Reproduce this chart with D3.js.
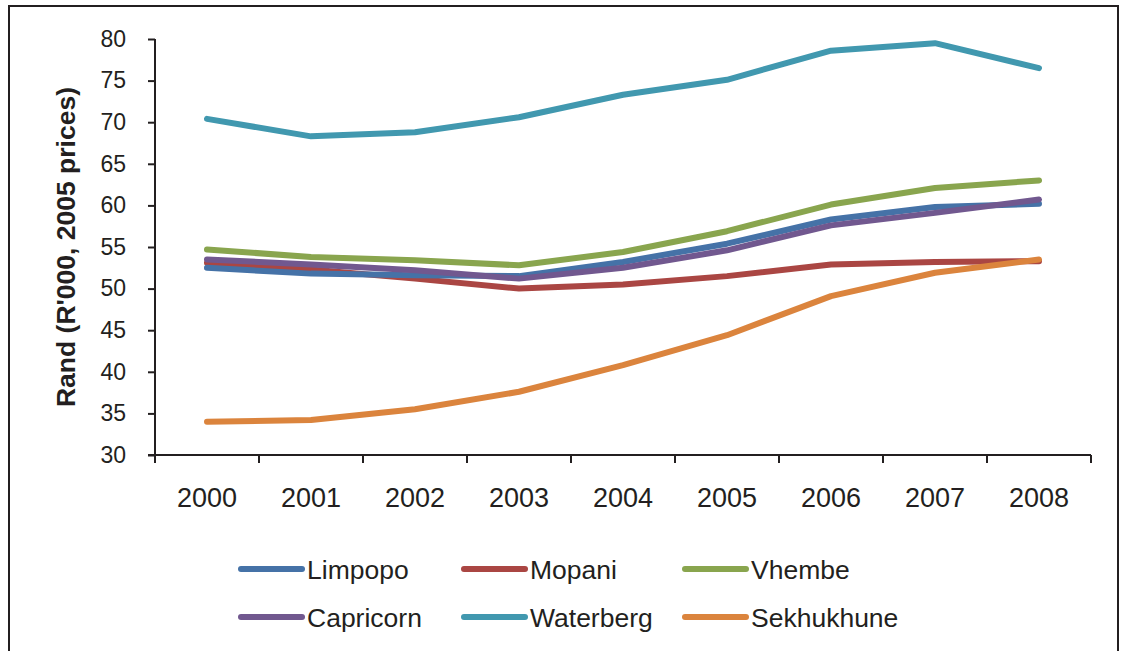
<!DOCTYPE html>
<meta charset="utf-8">
<head>
    <title>Rand per district</title>
    <script src="https://cdn.jsdelivr.net/npm/d3@7"></script>
</head>

<style>
    body { margin: 0; background: #fff; }
    text { font-family: "Liberation Sans", Arial, sans-serif; fill: #231f20; }
    .axis path, .axis line { stroke: #231f20; stroke-width: 2px; }
    .series { fill: none; stroke-width: 6px; stroke-linecap: round; stroke-linejoin: round; }
</style>

<svg></svg>

<script>
    var width = 1124;
    var height = 651;

    // data
    var years = ['2000', '2001', '2002', '2003', '2004', '2005', '2006', '2007', '2008'];
    var yTicks = [30, 35, 40, 45, 50, 55, 60, 65, 70, 75, 80];
    var limpopo = [52.5, 51.8, 51.6, 51.5, 53.2, 55.4, 58.3, 59.8, 60.2];
    var mopani = [53.1, 52.3, 51.2, 50.0, 50.5, 51.5, 52.9, 53.2, 53.3];
    var vhembe = [54.7, 53.8, 53.4, 52.8, 54.4, 56.9, 60.1, 62.1, 63.0];
    var capricorn = [53.5, 52.9, 52.2, 51.2, 52.5, 54.6, 57.6, 59.1, 60.7];
    var waterberg = [70.4, 68.3, 68.8, 70.6, 73.3, 75.1, 78.6, 79.5, 76.5];
    var sekhukhune = [34.0, 34.2, 35.5, 37.6, 40.8, 44.4, 49.1, 51.9, 53.5];

    var seriesNames = ['Limpopo', 'Mopani', 'Vhembe', 'Capricorn', 'Waterberg', 'Sekhukhune'];
    var seriesValues = [limpopo, mopani, vhembe, capricorn, waterberg, sekhukhune];
    var colours = ['#4572a7', '#aa4643', '#89a54e', '#71588f', '#4198af', '#db843d'];

    // draw order: Waterberg, Mopani, Sekhukhune, Limpopo, Capricorn, Vhembe on top
    var drawOrder = [4, 1, 5, 0, 3, 2];

    var svg = d3.select('svg').attr('width', width).attr('height', height);

    // outer frame
    svg.append('rect')
        .attr('x', 9).attr('y', 6)
        .attr('width', 1109).attr('height', 700)
        .attr('fill', 'none').attr('stroke', '#231f20').attr('stroke-width', 2);

    var plot = { left: 155, right: 1091, top: 39, bottom: 455 };

    var x = d3.scaleBand().domain(years).range([plot.left, plot.right]);
    var y = d3.scaleLinear().domain([30, 80]).range([plot.bottom, plot.top]);

    // y axis
    var yAxis = svg.append('g').attr('class', 'axis')
        .attr('transform', 'translate(' + plot.left + ',0)')
        .call(d3.axisLeft(y).tickValues(yTicks).tickSize(7).tickPadding(22).tickSizeOuter(0));
    yAxis.selectAll('text').style('font-size', '23px');
    yAxis.select('.domain').remove();
    svg.append('line').attr('class', 'axis')
        .attr('x1', plot.left).attr('x2', plot.left)
        .attr('y1', plot.top).attr('y2', plot.bottom + 8)
        .style('stroke', '#231f20').style('stroke-width', 2);

    // x axis with ticks between categories
    var xAxis = svg.append('g').attr('class', 'axis')
        .attr('transform', 'translate(0,' + plot.bottom + ')');
    xAxis.append('line')
        .attr('x1', plot.left - 7).attr('x2', plot.right)
        .attr('y1', 0).attr('y2', 0);
    var bounds = years.map(function (d) { return x(d); }).concat([plot.right]);
    xAxis.selectAll('.tick').data(bounds).enter().append('line')
        .attr('x1', function (d) { return d; }).attr('x2', function (d) { return d; })
        .attr('y1', 0).attr('y2', 8);
    xAxis.selectAll('.lbl').data(years).enter().append('text')
        .attr('x', function (d) { return x(d) + x.bandwidth() / 2; })
        .attr('y', 52)
        .attr('text-anchor', 'middle')
        .style('font-size', '27px')
        .text(function (d) { return d; });

    // y title
    svg.append('text')
        .attr('transform', 'translate(75,' + (plot.top + plot.bottom) / 2 + ') rotate(-90)')
        .attr('text-anchor', 'middle')
        .style('font-size', '26.5px').style('font-weight', 'bold')
        .text("Rand (R'000, 2005 prices)");

    // lines
    var line = d3.line()
        .x(function (d, i) { return x(years[i]) + x.bandwidth() / 2; })
        .y(function (d) { return y(d); });

    svg.selectAll('.series').data(drawOrder).enter().append('path')
        .attr('class', 'series')
        .attr('stroke', function (k) { return colours[k]; })
        .attr('d', function (k) { return line(seriesValues[k]); });

    // legend
    var legX = [241, 464, 685];
    var legY = [569, 617];
    var leg = svg.selectAll('.leg').data(seriesNames).enter().append('g')
        .attr('transform', function (d, i) {
            return 'translate(' + legX[i % 3] + ',' + legY[Math.floor(i / 3)] + ')';
        });
    leg.append('line')
        .attr('x1', 0).attr('x2', 61).attr('y1', 0).attr('y2', 0)
        .attr('stroke', function (d, i) { return colours[i]; })
        .attr('stroke-width', 6).attr('stroke-linecap', 'round');
    leg.append('text')
        .attr('x', 66).attr('y', 9.5)
        .style('font-size', '26.5px')
        .text(function (d) { return d; });
</script>
